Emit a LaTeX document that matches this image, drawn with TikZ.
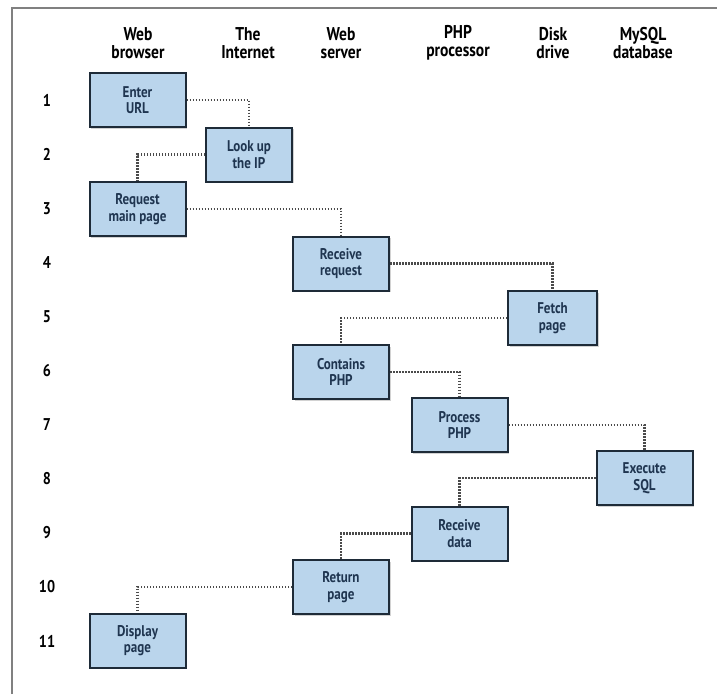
\documentclass[tikz,border=0pt]{standalone}
\usepackage{fontspec}
\setmainfont{PT Sans}[FakeStretch=0.84]
\usetikzlibrary{shadows}
\definecolor{boxfill}{HTML}{BAD5EC}
\definecolor{boxline}{HTML}{1E2B38}
\definecolor{boxtext}{HTML}{1F3550}
\definecolor{frameline}{HTML}{808080}
\definecolor{linkline}{HTML}{4A4A4A}
\tikzset{
  stepbox/.style={draw=boxline, line width=2pt, fill=boxfill, minimum width=96pt, minimum height=54pt,
    inner sep=0pt, align=center, text=boxtext, font=\fontsize{15.5}{16.5}\selectfont\bfseries,
    drop shadow={shadow xshift=1.5pt, shadow yshift=-1.5pt, opacity=0.35}},
  head/.style={align=center, font=\fontsize{18.5}{18.5}\selectfont\bfseries, text=black},
  rownum/.style={font=\fontsize{17}{17}\selectfont\bfseries, text=black},
  link/.style={draw=linkline, line width=2.2pt, dash pattern=on 1.5pt off 1.5pt},
}
\begin{document}
\begin{tikzpicture}[x=1pt,y=-1pt]
\useasboundingbox (0,0) rectangle (717,694);
\fill[white] (0,0) rectangle (717,694);
\draw[frameline, line width=1.6pt] (12,694) -- (12,8) -- (717,8);
% headers
\node[head] (h1) at (138,43) {Web\\browser};
\node[head] (h2) at (248,43) {The\\Internet};
\node[head] (h3) at (341,43) {Web\\server};
\node[head] (h4) at (458,43) {PHP\\processor};
\node[head] (h5) at (553,43) {Disk\\drive};
\node[head] (h6) at (643,43) {MySQL\\database};
% row numbers
\foreach \i in {1,...,11} {
  \node[rownum] (r\i) at (47,{100+(\i-1)*54.1}) {\i};
}
% boxes
\node[stepbox] (b1) at (137.5,100) {Enter\\URL};
\node[stepbox, minimum width=86pt] (b2) at (249,154.5) {Look up\\the IP};
\node[stepbox] (b3) at (137.5,209) {Request\\main page};
\node[stepbox] (b4) at (341,263.5) {Receive\\request};
\node[stepbox, minimum width=89pt] (b5) at (552.5,318) {Fetch\\page};
\node[stepbox] (b6) at (341,372) {Contains\\PHP};
\node[stepbox] (b7) at (459.5,425) {Process\\PHP};
\node[stepbox] (b8) at (644.5,478) {Execute\\SQL};
\node[stepbox] (b9) at (459.5,533.5) {Receive\\data};
\node[stepbox] (b10) at (341,587) {Return\\page};
\node[stepbox] (b11) at (137.5,640.5) {Display\\page};
% connectors
\draw[link] (b1.east) -| (b2.north);
\draw[link] (b2.west) -| (b3.north);
\draw[link] (b3.east) -| (b4.north);
\draw[link] (b4.east) -| (b5.north);
\draw[link] (b5.west) -| (b6.north);
\draw[link] (b6.east) -| (b7.north);
\draw[link] (b7.east) -| (b8.north);
\draw[link] (b8.west) -| (b9.north);
\draw[link] (b9.west) -| (b10.north);
\draw[link] (b10.west) -| (b11.north);
\end{tikzpicture}
\end{document}
